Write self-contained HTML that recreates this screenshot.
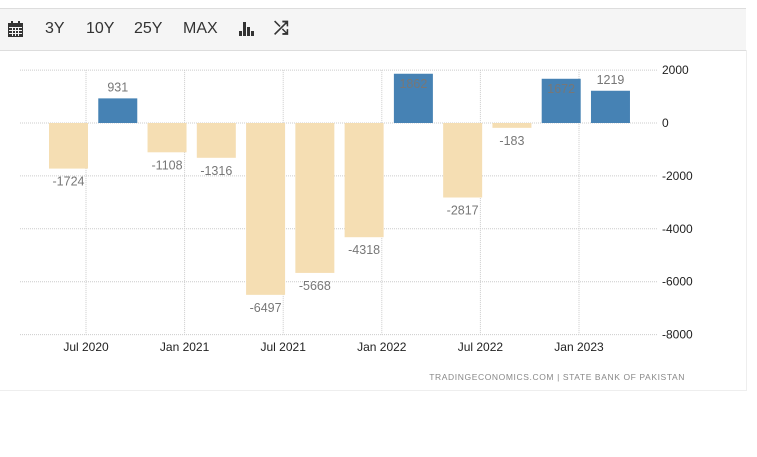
<!DOCTYPE html>
<html><head><meta charset="utf-8"><style>
body{margin:0;width:757px;height:457px;background:#fff;font-family:"Liberation Sans",sans-serif;overflow:hidden}
#tb{position:absolute;left:0;top:8px;width:746px;height:41px;background:#f5f5f5;border-top:1px solid #ddd;border-bottom:1px solid #ddd}
.b{position:absolute;top:11px;font-size:16px;color:#333}
#panel{position:absolute;left:0;top:50px;width:746px;height:340px;border-right:1px solid #eee;border-bottom:1px solid #eee}
</style></head><body>
<div id="tb">
<svg class="b" style="left:8px;top:12px" width="15" height="16" viewBox="0 0 15 16"><rect x="0" y="2" width="15" height="14" fill="#333"/><rect x="3" y="0" width="2" height="4" fill="#333"/><rect x="10" y="0" width="2" height="4" fill="#333"/><g fill="#f5f5f5"><rect x="1" y="6" width="13" height="1"/><rect x="1" y="9" width="13" height="1"/><rect x="1" y="12" width="13" height="1"/><rect x="4" y="6" width="1" height="9"/><rect x="7" y="6" width="1" height="9"/><rect x="10" y="6" width="1" height="9"/></g></svg>
<span class="b" style="left:45px">3Y</span>
<span class="b" style="left:86px">10Y</span>
<span class="b" style="left:134px">25Y</span>
<span class="b" style="left:183px">MAX</span>
<svg class="b" style="left:239px;top:13px" width="15" height="14"><rect x="0" y="9" width="3" height="5" fill="#333"/><rect x="4" y="0" width="3" height="14" fill="#333"/><rect x="8" y="5" width="3" height="9" fill="#333"/><rect x="12" y="9" width="3" height="5" fill="#333"/></svg>
<span class="b" style="left:274px;top:9px;font-size:18px;font-weight:bold">⤮</span>
</div>
<div id="panel"></div>
<svg id="c" width="757" height="457" style="position:absolute;left:0;top:0"></svg>
<script>
const categories=["Q2 2020","Q3 2020","Q4 2020","Q1 2021","Q2 2021","Q3 2021","Q4 2021","Q1 2022","Q2 2022","Q3 2022","Q4 2022","Q1 2023"];
const values=[-1724,931,-1108,-1316,-6497,-5668,-4318,1862,-2817,-183,1672,1219];
const yTicks=[2000,0,-2000,-4000,-6000,-8000];
const xTickLabels=["Jul 2020","Jan 2021","Jul 2021","Jan 2022","Jul 2022","Jan 2023"];
const NS="http://www.w3.org/2000/svg",svg=document.getElementById('c');
const y=v=>123-v*52.9/2000;
const x=i=>68.5+i*49.27;
const gx=k=>86+k*98.6;
function mk(t,a,txt){const e=document.createElementNS(NS,t);for(const k in a)e.setAttribute(k,a[k]);if(txt!==undefined)e.textContent=txt;svg.appendChild(e);return e;}
yTicks.forEach(v=>{
 const l=mk('line',{x1:20,x2:658,y1:y(v),y2:y(v),stroke:'#ccc','stroke-dasharray':'1,1'});
 
 
 const t=mk('text',{x:662,y:y(v)+4,'font-size':12,fill:'#222'},String(v));
 
 
});
xTickLabels.forEach((s,k)=>{
 const l=mk('line',{x1:gx(k),x2:gx(k),y1:y(2000),y2:y(-8000),stroke:'#ccc','stroke-dasharray':'1,1'});
 
 
 const t=mk('text',{x:gx(k),y:351,'font-size':12,fill:'#222','text-anchor':'middle'},s);
 
 
});
values.forEach((v,i)=>{
 const top=Math.min(y(v),y(0)),h=Math.abs(y(v)-y(0));
 const r=mk('rect',{x:x(i)-19.5,y:top,width:39,height:h,fill:v>=0?'#4682b4':'#f5deb3'});
 
 
 let ly=v>=0?y(v)-7:y(v)+17;
 if(v>=0&&ly<75)ly=y(v)+14;
 const t=mk('text',{x:x(i),y:ly,'font-size':12.5,fill:'#777','text-anchor':'middle'},String(v));
 
 
});
const f=mk('text',{x:685,y:380,'font-size':8.5,fill:'#888','text-anchor':'end','letter-spacing':'0.6'},'TRADINGECONOMICS.COM  |  STATE BANK OF PAKISTAN');


</script>
</body></html>
